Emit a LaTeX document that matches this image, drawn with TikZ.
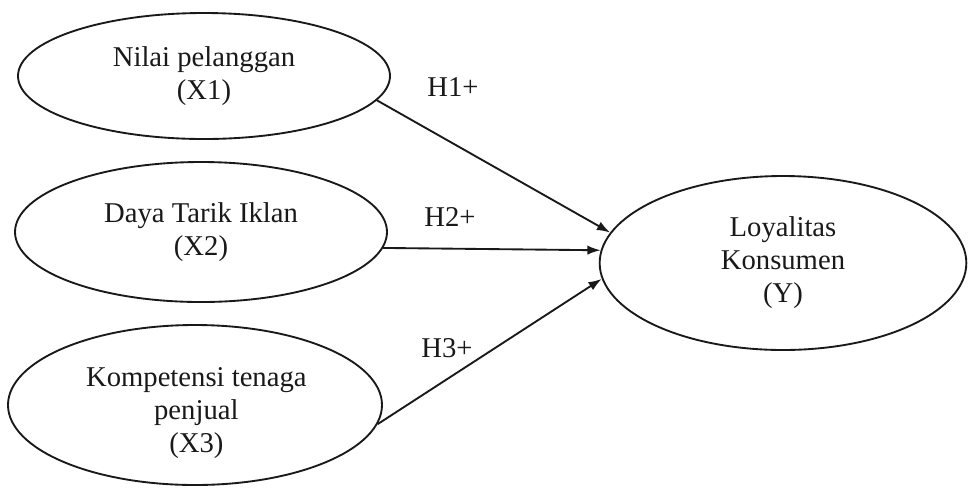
\documentclass[tikz,border=0pt]{standalone}
\usepackage{fontspec}
\setmainfont{Liberation Serif}
\usetikzlibrary{shapes.geometric,arrows.meta}
\begin{document}
\begin{tikzpicture}[x=0.75pt,y=-0.75pt,
  every node/.style={font=\fontsize{21.5}{24.75}\selectfont, text=black!90},
  var/.style={ellipse, draw=black!90, line width=1.4pt, inner sep=0pt, align=center},
  link/.style={draw=black!90, line width=1.4pt, -{Latex[length=10pt,width=7pt]}},
  hyp/.style={inner sep=0pt}]
\useasboundingbox (0,0) rectangle (968,487);
\fill[white] (0,0) rectangle (968,487);
\node[var, minimum width=279pt, minimum height=94.5pt] (x1) at (204,76) {Nilai pelanggan\\(X1)};
\node[var, minimum width=279pt, minimum height=105pt] (x2) at (201,232) {Daya Tarik Iklan\\(X2)};
\node[var, minimum width=280.5pt, minimum height=120pt,
  label={[align=center, yshift=-6pt, xshift=1pt]center:Kompetensi tenaga\\penjual\\(X3)}] (x3) at (195,405) {};
\node[var, minimum width=275pt, minimum height=130.5pt] (y) at (783,263) {Loyalitas\\Konsumen\\(Y)};
\draw[link] (x1.-8) -- (y.170.4);
\draw[link] (x2.-5.3) -- (y.176.9);
\draw[link] (x3.-6.7) -- (y.-175.6);
\node[hyp] (h1) at (453,87) {H1+};
\node[hyp] (h2) at (450,217) {H2+};
\node[hyp] (h3) at (447,348) {H3+};
\end{tikzpicture}
\end{document}
